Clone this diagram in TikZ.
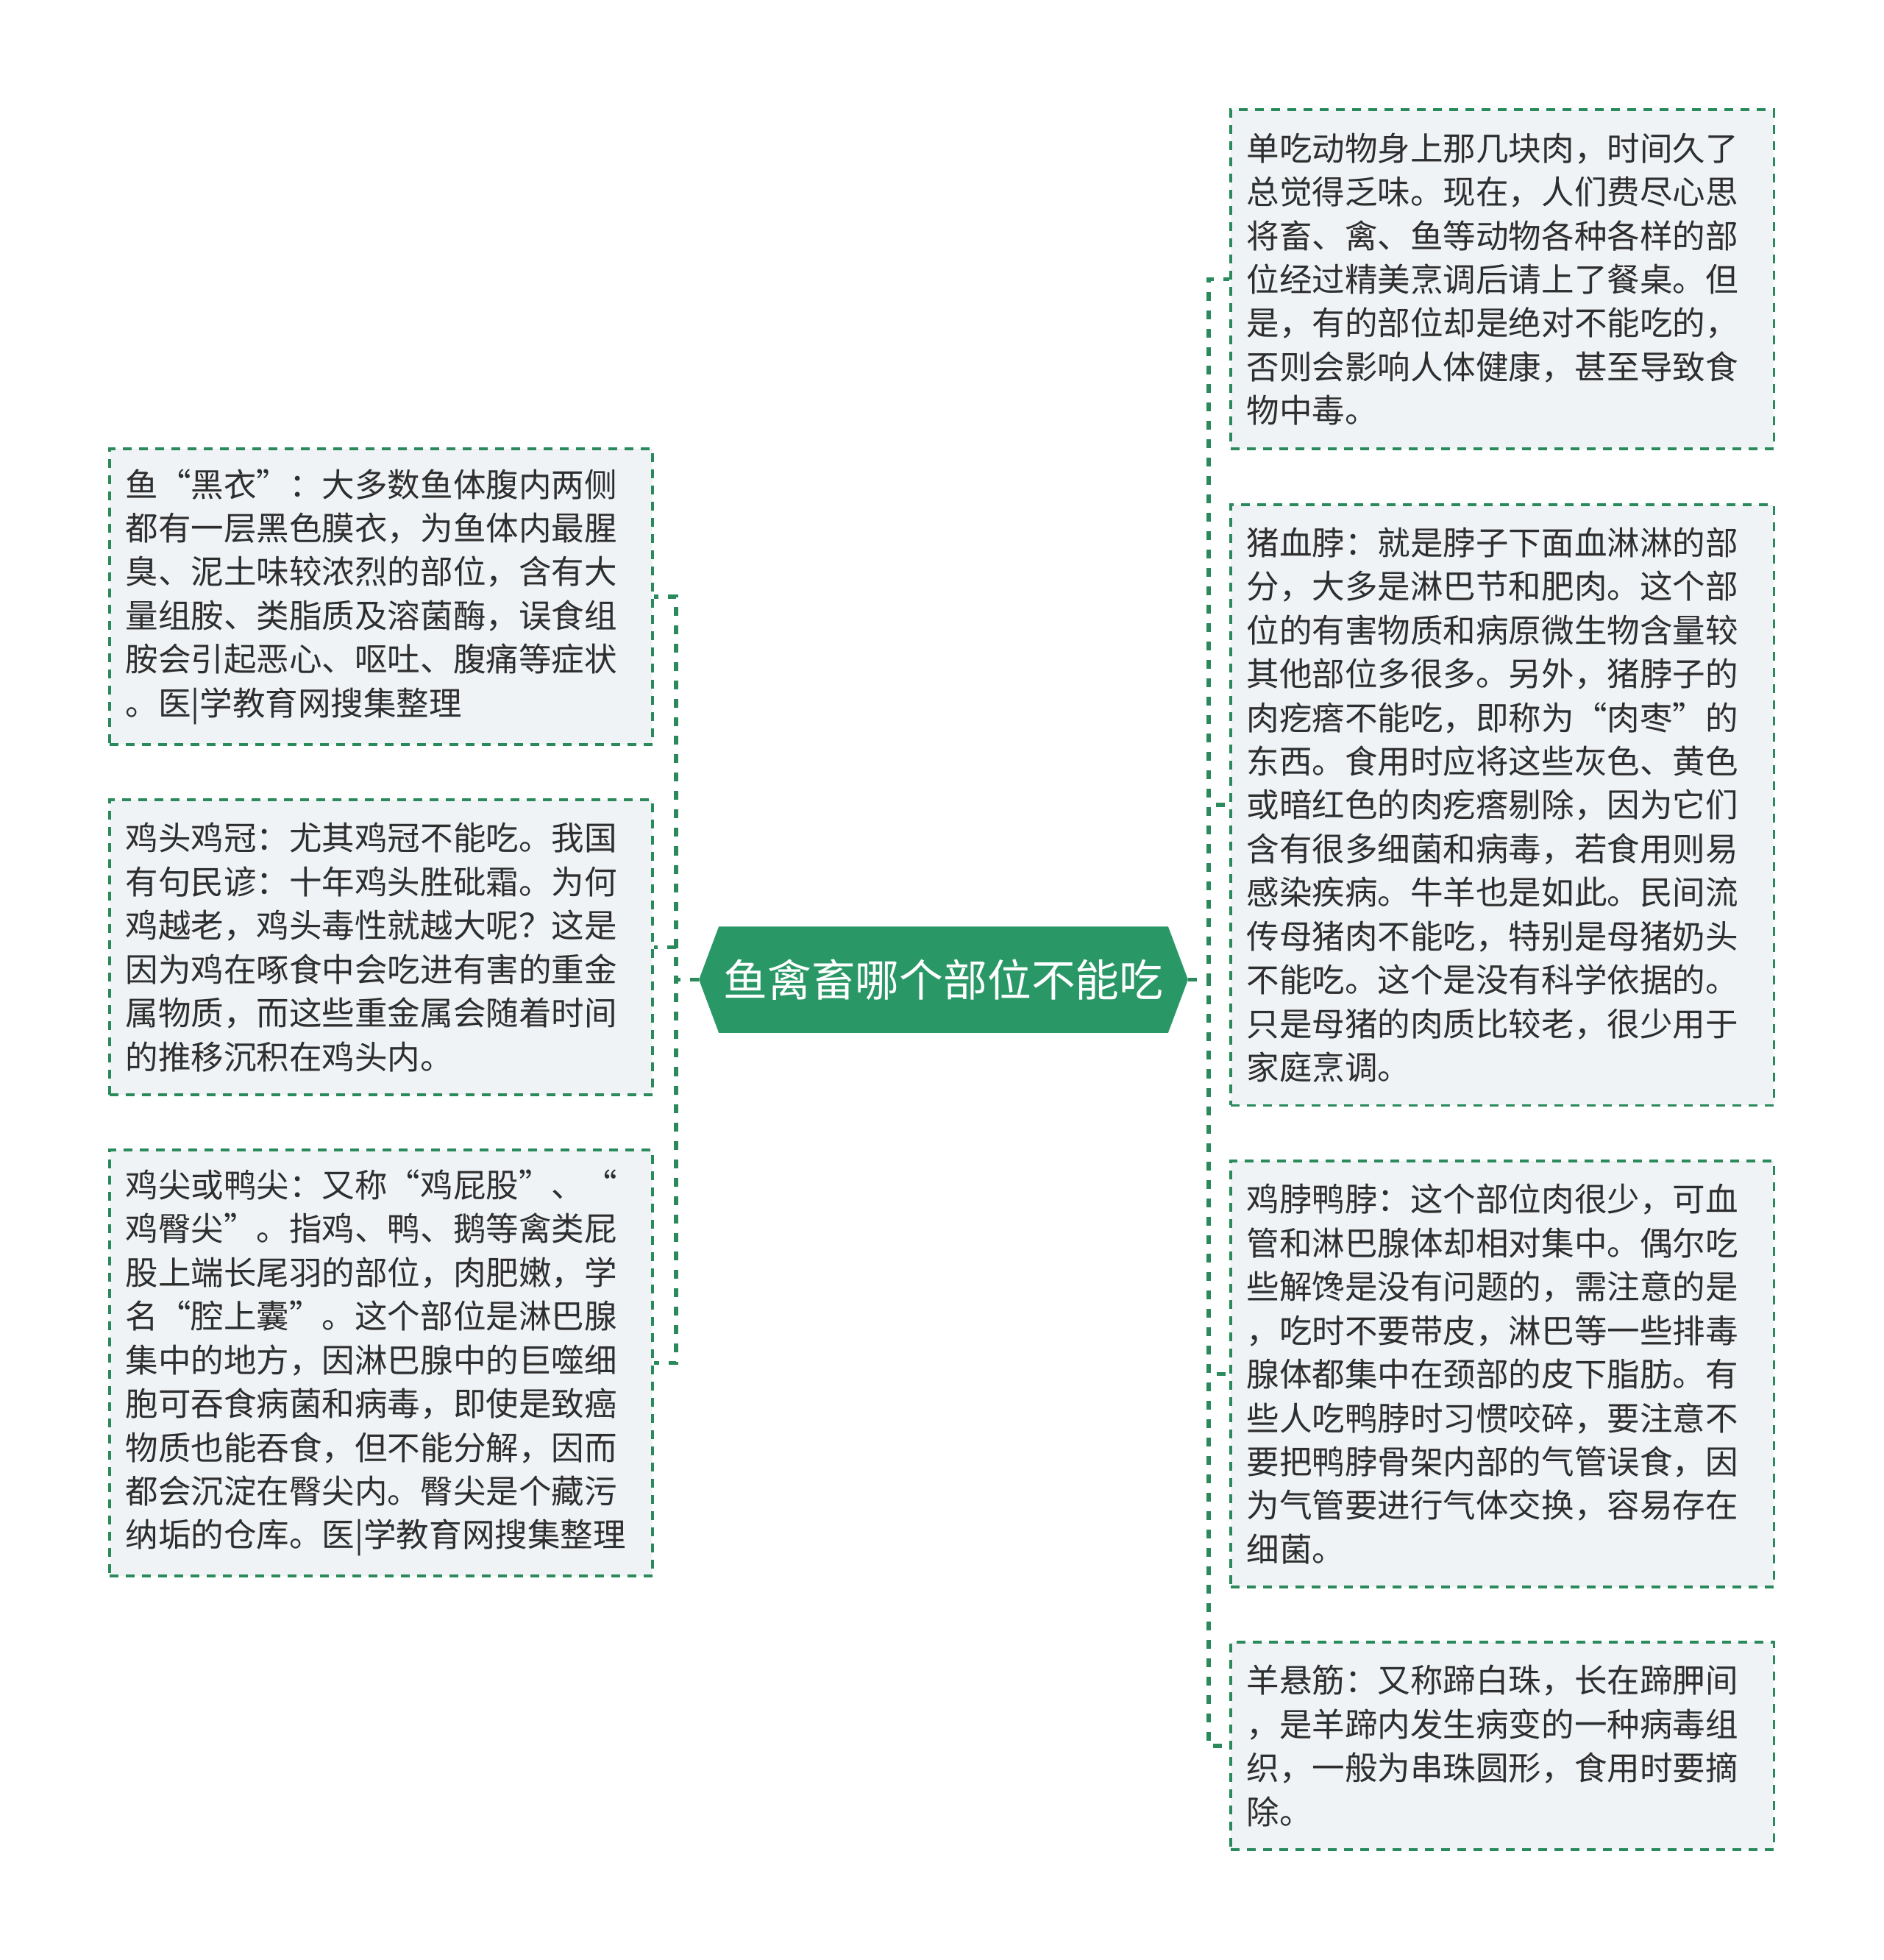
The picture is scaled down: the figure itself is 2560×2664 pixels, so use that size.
\documentclass[tikz,border=0pt]{standalone}
\usepackage{fontspec}
\newfontfamily\cjk{Noto Sans CJK SC}
\usetikzlibrary{backgrounds}
\definecolor{mmgreen}{HTML}{2A9866}
\definecolor{dashgreen}{HTML}{2A8A5C}
\definecolor{boxfill}{HTML}{F0F3F6}
\definecolor{txtgray}{HTML}{2E2E2E}
\newcommand\myqo{\makebox[1em][r]{“}}
\newcommand\myqc{\makebox[1em][l]{”}}
\tikzset{
  infobox/.style={draw=dashgreen, fill=boxfill, line width=0.035cm,
    dash pattern=on 0.12cm off 0.1cm, rectangle, align=left,
    minimum width=7.38cm, text width=6.94cm, inner xsep=0.22cm, inner ysep=0.1cm,
    text=txtgray, font=\cjk\fontsize{12.66pt}{16.9pt}\selectfont},
  titlenode/.style={minimum width=6.63cm, minimum height=1.43cm, inner sep=0pt,
    text=white, font=\cjk\fontsize{17pt}{20pt}\selectfont},
  conn/.style={draw=dashgreen, line width=0.055cm, dash pattern=on 0.12cm off 0.13cm}
}
\begin{document}
\begin{tikzpicture}[x=0.01cm,y=-0.01cm]
\useasboundingbox (0,0) rectangle (2560,2664);

\node[titlenode] (T) at (1282.5,1331.5) {鱼禽畜哪个部位不能吃};

\node[infobox, minimum height=4.02cm] (L1) at (518,811) {鱼\myqo 黑衣\myqc ：大多数鱼体腹内两侧\\
都有一层黑色膜衣，为鱼体内最腥\\
臭、泥土味较浓烈的部位，含有大\\
量组胺、类脂质及溶菌酶，误食组\\
胺会引起恶心、呕吐、腹痛等症状\\
。医|学教育网搜集整理};

\node[infobox, minimum height=4.01cm] (L2) at (518,1287.5) {鸡头鸡冠：尤其鸡冠不能吃。我国\\
有句民谚：十年鸡头胜砒霜。为何\\
鸡越老，鸡头毒性就越大呢？这是\\
因为鸡在啄食中会吃进有害的重金\\
属物质，而这些重金属会随着时间\\
的推移沉积在鸡头内。};

\node[infobox, minimum height=5.79cm] (L3) at (518,1852.5) {鸡尖或鸭尖：又称\myqo 鸡屁股\myqc 、\myqo\\
鸡臀尖\myqc 。指鸡、鸭、鹅等禽类屁\\
股上端长尾羽的部位，肉肥嫩，学\\
名\myqo 腔上囊\myqc 。这个部位是淋巴腺\\
集中的地方，因淋巴腺中的巨噬细\\
胞可吞食病菌和病毒，即使是致癌\\
物质也能吞食，但不能分解，因而\\
都会沉淀在臀尖内。臀尖是个藏污\\
纳垢的仓库。医|学教育网搜集整理};

\node[infobox, minimum height=4.61cm] (R1) at (2042,379.5) {单吃动物身上那几块肉，时间久了\\
总觉得乏味。现在，人们费尽心思\\
将畜、禽、鱼等动物各种各样的部\\
位经过精美烹调后请上了餐桌。但\\
是，有的部位却是绝对不能吃的，\\
否则会影响人体健康，甚至导致食\\
物中毒。};

\node[infobox, minimum height=8.16cm] (R2) at (2042,1094) {猪血脖：就是脖子下面血淋淋的部\\
分，大多是淋巴节和肥肉。这个部\\
位的有害物质和病原微生物含量较\\
其他部位多很多。另外，猪脖子的\\
肉疙瘩不能吃，即称为\myqo 肉枣\myqc 的\\
东西。食用时应将这些灰色、黄色\\
或暗红色的肉疙瘩剔除，因为它们\\
含有很多细菌和病毒，若食用则易\\
感染疾病。牛羊也是如此。民间流\\
传母猪肉不能吃，特别是母猪奶头\\
不能吃。这个是没有科学依据的。\\
只是母猪的肉质比较老，很少用于\\
家庭烹调。};

\node[infobox, minimum height=5.79cm] (R3) at (2042,1867.5) {鸡脖鸭脖：这个部位肉很少，可血\\
管和淋巴腺体却相对集中。偶尔吃\\
些解馋是没有问题的，需注意的是\\
，吃时不要带皮，淋巴等一些排毒\\
腺体都集中在颈部的皮下脂肪。有\\
些人吃鸭脖时习惯咬碎，要注意不\\
要把鸭脖骨架内部的气管误食，因\\
为气管要进行气体交换，容易存在\\
细菌。};

\node[infobox, minimum height=2.82cm] (R4) at (2042,2373) {羊悬筋：又称蹄白珠，长在蹄胛间\\
，是羊蹄内发生病变的一种病毒组\\
织，一般为串珠圆形，食用时要摘\\
除。};

\coordinate (LJ) at (919,1331.5);
\coordinate (RJ) at (1643,1331.5);

\foreach \n in {L1,L2,L3} {
  \draw[conn] (T.west) -- (LJ) |- (\n.east);
}
\foreach \n in {R1,R2,R3,R4} {
  \draw[conn] (T.east) -- (RJ) |- (\n.west);
}

\begin{scope}[on background layer]
  \fill[white] (0,0) rectangle (2560,2664);
  \fill[mmgreen] (T.west) -- ([xshift=0.27cm]T.north west) -- ([xshift=-0.27cm]T.north east)
    -- (T.east) -- ([xshift=-0.27cm]T.south east) -- ([xshift=0.27cm]T.south west) -- cycle;
\end{scope}
\end{tikzpicture}
\end{document}
